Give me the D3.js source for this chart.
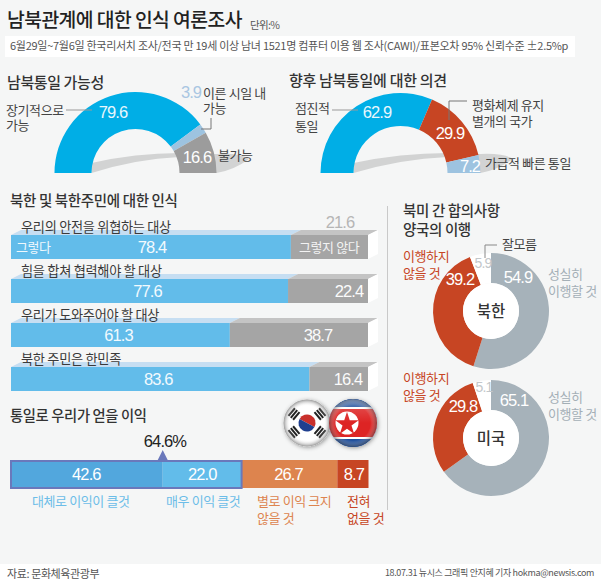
<!DOCTYPE html>
<html><head><meta charset="utf-8">
<script src="https://cdnjs.cloudflare.com/ajax/libs/d3/7.8.5/d3.min.js"></script>
<style>html,body{margin:0;padding:0;background:#f5f6f6}svg{display:block}
text{font-family:"Noto Sans CJK KR","Noto Sans",sans-serif;}
text.n{font-family:"Liberation Sans",Arial,sans-serif;}</style></head><body>
<svg id="c" width="601" height="582"></svg>
<script>
const gaugeA = [79.6, 3.9, 16.6];
const gaugeB = [62.9, 29.9, 7.2];
const barLabels = ["우리의 안전을 위협하는 대상","힘을 합쳐 협력해야 할 대상","우리가 도와주어야 할 대상","북한 주민은 한민족"];
const barYes = [78.4, 77.6, 61.3, 83.6];
const barNo = [21.6, 22.4, 38.7, 16.4];
const benefit = [42.6, 22.0, 26.7, 8.7];
const benefitSum = 64.6;
const donutNK = [54.9, 39.2, 5.9];
const donutUS = [65.1, 29.8, 5.1];

const BLUE="#00aee6", LBLUE="#9dc3e0", GREY="#9c9c9c", RED="#c74523", SKY="#62bcea", DGREY="#a5a5a5", SLATE="#a6b2ba", TXT="#444";
const svg=d3.select("#c");
const T=(x,y,s,o={})=>svg.append("text").attr("x",x).attr("y",y).text(s)
  .attr("font-size",o.size||13).attr("fill",o.fill||TXT).attr("text-anchor",o.anchor||"start")
  .attr("font-weight",o.weight||400).attr("letter-spacing",o.ls??-0.4).attr("class",o.cls||null);
const N=(x,y,v,fill,size=16.5)=>T(x,y,v,{size,fill,anchor:"middle",ls:-0.9,cls:"n"});

svg.append("rect").attr("width",601).attr("height",582).attr("fill","#f5f6f6");
svg.append("rect").attr("x",5).attr("y",36).attr("width",570).attr("height",21).attr("fill","#fff");
svg.append("rect").attr("y",564).attr("width",601).attr("height",18).attr("fill","#fff");
svg.append("line").attr("x1",387.5).attr("x2",387.5).attr("y1",206).attr("y2",510).attr("stroke","#c9c9c9");

T(7,27,"남북관계에 대한 인식 여론조사",{size:19.3,fill:"#222",weight:500,ls:-0.55});
T(250,29,"단위:%",{size:10.5,fill:"#555",ls:-0.7});
T(10,50,"6월29일~7월6일 한국리서치 조사/전국 만 19세 이상 남녀 1521명 컴퓨터 이용 웹 조사(CAWI)/표본오차 95% 신뢰수준 ±2.5%p",{size:11,fill:"#555",ls:-0.28});

function gauge(cx,cy,R,r,vals,cols){
  const g=svg.append("g").attr("transform",`translate(${cx},${cy})`);
  const a=d3.scaleLinear().domain([0,d3.sum(vals)]).range([-Math.PI/2,Math.PI/2]);
  const s=d3.path();
  s.moveTo(-r,0); s.lineTo(-r,-10);
  s.quadraticCurveTo(0,-20,r,-20);
  s.lineTo(R,-19);
  s.quadraticCurveTo(R*1.3,-20,R*1.4,-14);
  s.quadraticCurveTo(R*1.22,-3,R,0);
  s.lineTo(r,-16);
  s.quadraticCurveTo(0,-14,-r,0);
  s.closePath();
  g.append("path").attr("d",s.toString()).attr("fill","#d2d3d3");
  const arc=d3.arc().innerRadius(r).outerRadius(R);
  let acc=0;
  vals.forEach((v,i)=>{g.append("path").attr("d",arc({startAngle:a(acc),endAngle:a(acc+v)})).attr("fill",cols[i]);acc+=v;});
}
T(7,88,"남북통일 가능성",{size:15,fill:"#333",weight:500});
gauge(135.5,173,81,44,gaugeA,[BLUE,LBLUE,GREY]);
N(113,118,gaugeA[0].toFixed(1),"#e8f7fd");
N(191,98,gaugeA[1].toFixed(1),"#a9c6e2");
N(197,163,gaugeA[2].toFixed(1),"#fff");
T(6,115,"장기적으로");T(6,130,"가능");
T(203,98,"이른 시일 내");T(203,113,"가능");
T(218,160,"불가능");
svg.append("path").attr("d",d3.line()([[66,110],[92,110]])).attr("stroke","#999").attr("fill","none");
svg.append("path").attr("d",d3.line()([[211,118],[211,129],[201,129]])).attr("stroke","#777").attr("fill","none");

T(289,86,"향후 남북통일에 대한 의견",{size:15,fill:"#333",weight:500,ls:-0.3});
gauge(400.5,173,80,47,gaugeB,[BLUE,RED,LBLUE]);
N(377,118,gaugeB[0].toFixed(1),"#e8f7fd");
N(450,139,gaugeB[1].toFixed(1),"#fff");
N(470,172,gaugeB[2].toFixed(1),"#fff");
T(295,113,"점진적");T(295,131,"통일");
T(472,110,"평화체제 유지");T(472,126,"별개의 국가");
T(485,168,"가급적 빠른 통일");
svg.append("path").attr("d",d3.line()([[332,110],[358,110]])).attr("stroke","#999").attr("fill","none");
svg.append("path").attr("d",d3.line()([[449,120],[449,101],[467,101]])).attr("stroke","#777").attr("fill","none");

T(10,206,"북한 및 북한주민에 대한 인식",{size:14.5,fill:"#333",weight:500,ls:-0.35});
const xB=d3.scaleLinear().domain([0,100]).range([11,368]);
const yB=d3.scalePoint().domain(barLabels).range([235,367]);
const bh=24, dx=10, dy=5;
barLabels.forEach((l,i)=>{
  const y=yB(l), x0=xB(0), xm=xB(barYes[i]), x1=xB(100);
  const poly=(pts,f)=>svg.append("polygon").attr("points",pts.map(p=>p.join(",")).join(" ")).attr("fill",f);
  poly([[x0,y],[x0+dx,y-dy],[xm+dx,y-dy],[xm,y]],"#c6def2");
  poly([[xm,y],[xm+dx,y-dy],[x1+dx,y-dy],[x1,y]],"#c4c4c4");
  poly([[x1,y],[x1+dx,y-dy],[x1+dx,y+bh-dy],[x1,y+bh]],"#fff");
  svg.append("rect").attr("x",x0).attr("y",y).attr("width",xm-x0).attr("height",bh).attr("fill",SKY);
  svg.append("rect").attr("x",xm).attr("y",y).attr("width",x1-xm).attr("height",bh).attr("fill",DGREY);
  T(21,y-3,l,{size:13.2,fill:"#3a3a3a",ls:-0.3});
  N((x0+xm)/2+[1,-2,-2,-2][i],y+18,barYes[i].toFixed(1),"#f2fafe");
  if(i>0) N([0,349,318,348][i],y+18,barNo[i].toFixed(1),"#fbfbfb");
});
N(340,228,barNo[0].toFixed(1),"#b5b5b5");
T(16,252,"그렇다",{fill:"#eef8fd"});
T(299,252,"그렇지 않다",{fill:"#f3f3f3"});

T(10,421,"통일로 우리가 얻을 이익",{size:14.3,fill:"#333",weight:500,ls:-0.35});
N(165,447,benefitSum.toFixed(1)+"%","#222");
const xS=d3.scaleLinear().domain([0,d3.sum(benefit)]).range([10,368.5]);
const bc=["#52a7dd",SKY,"#dd844e",RED];
let acc=0;
benefit.forEach((v,i)=>{
  svg.append("rect").attr("x",xS(acc)).attr("y",460).attr("width",xS(acc+v)-xS(acc)).attr("height",28).attr("fill",bc[i]);
  N((xS(acc)+xS(acc+v))/2+[0,0,-1,1][i],480,v.toFixed(1),"#fff");
  acc+=v;
});
svg.append("rect").attr("x",xS(0)+1).attr("y",461).attr("width",xS(benefit[0]+benefit[1])-xS(0)-1).attr("height",27).attr("fill","none").attr("stroke","#6a78bb").attr("stroke-width",2);
svg.append("polygon").attr("points",[[xS(benefit[0]),450],[xS(benefit[0])-5,460],[xS(benefit[0])+5,460]].join(" ")).attr("fill","#6a78bb");
T(32,506,"대체로 이익이 클것",{fill:"#6cbde8"});
T(166,506,"매우 이익 클것",{fill:"#6cbde8"});
T(257,506,"별로 이익 크지",{fill:"#dd844e"});T(257,523,"않을 것",{fill:"#dd844e"});
T(347,506,"전혀",{fill:RED});T(347,523,"없을 것",{fill:RED});

// flags
const defs=svg.append("defs");
const g1=defs.append("radialGradient").attr("id","gl").attr("cx","50%").attr("cy","50%").attr("r","50%");
g1.append("stop").attr("offset","72%").attr("stop-color","#fff").attr("stop-opacity",0);
g1.append("stop").attr("offset","100%").attr("stop-color","#444").attr("stop-opacity",0.55);
const g2=defs.append("linearGradient").attr("id","sh").attr("x1",0).attr("x2",0).attr("y1",0).attr("y2",1);
g2.append("stop").attr("offset","0%").attr("stop-color","#fff").attr("stop-opacity",0.25);
g2.append("stop").attr("offset","50%").attr("stop-color","#fff").attr("stop-opacity",0);
const ds=defs.append("filter").attr("id","ds").attr("x","-30%").attr("y","-30%").attr("width","160%").attr("height","160%");
ds.append("feDropShadow").attr("dx",1).attr("dy",1).attr("stdDeviation",2).attr("flood-color","#000").attr("flood-opacity",0.4);
defs.append("clipPath").attr("id","nk").append("circle").attr("cx",353).attr("cy",423).attr("r",24);
const kr=svg.append("g").attr("transform","translate(307,423)");
kr.append("circle").attr("r",23.5).attr("fill","#fff").attr("filter","url(#ds)");
const tk=d3.arc().innerRadius(0).outerRadius(8.5);
kr.append("path").attr("d",tk({startAngle:-Math.PI/2+0.5,endAngle:Math.PI/2+0.5})).attr("fill","#c9302c");
kr.append("path").attr("d",tk({startAngle:Math.PI/2+0.5,endAngle:3*Math.PI/2+0.5})).attr("fill","#1f3f8f");
[[-13,-9,-1],[13,-9,1],[-13,9,1],[13,9,-1]].forEach(([x,y,s])=>{
  const t=kr.append("g").attr("transform",`translate(${x},${y}) rotate(${s*50})`);
  [-3,0,3].forEach(d=>t.append("rect").attr("x",-5).attr("y",d-1).attr("width",10).attr("height",2).attr("fill","#222"));
});
kr.append("circle").attr("r",23.5).attr("fill","url(#gl)");
svg.append("circle").attr("cx",353).attr("cy",423).attr("r",24).attr("fill","#1f4f9c").attr("filter","url(#ds)");
const nk=svg.append("g").attr("clip-path","url(#nk)");
nk.append("rect").attr("x",329).attr("y",399).attr("width",48).attr("height",48).attr("fill","#1f4f9c");
nk.append("rect").attr("x",329).attr("y",407).attr("width",48).attr("height",32).attr("fill","#fff");
nk.append("rect").attr("x",329).attr("y",409).attr("width",48).attr("height",28).attr("fill","#dd2424");
nk.append("circle").attr("cx",347).attr("cy",423).attr("r",11.5).attr("fill","#fff");
nk.append("path").attr("transform","translate(347,424)").attr("d",d3.symbol(d3.symbolStar,170)()).attr("fill","#dd2424");
nk.append("circle").attr("cx",353).attr("cy",423).attr("r",24).attr("fill","url(#gl)");
nk.append("circle").attr("cx",353).attr("cy",423).attr("r",24).attr("fill","url(#sh)");

// donuts
T(403,216,"북미 간 합의사항",{size:14.5,fill:"#333",weight:500,ls:-0.35});
T(403,235,"양국의 이행",{size:14.5,fill:"#333",weight:500,ls:-0.35});
function donut(cy,vals,name){
  const g=svg.append("g").attr("transform",`translate(491,${cy})`);
  const pie=d3.pie().sort(null)(vals);
  const arc=d3.arc().innerRadius(28).outerRadius(58);
  const c=[SLATE,RED,"#fff"];
  g.selectAll("path").data(pie).enter().append("path").attr("d",arc).attr("fill",(d,i)=>c[i]);
  g.append("circle").attr("r",28).attr("fill","#fff");
  g.append("text").attr("text-anchor","middle").attr("y",6).attr("font-size",15.5).attr("font-weight",500).attr("fill","#333").text(name);
}
donut(311,donutNK,"북한");
donut(438,donutUS,"미국");
N(518,283,donutNK[0].toFixed(1),"#fff");
N(460,285,donutNK[1].toFixed(1),"#fff");
N(483,268,donutNK[2].toFixed(1),"#c3c7ca",14);
N(514,406,donutUS[0].toFixed(1),"#fff");
N(463,412,donutUS[1].toFixed(1),"#fff");
N(484,392,donutUS[2].toFixed(1),"#c3c7ca",14);
T(403,261,"이행하지",{fill:RED});T(403,278,"않을 것",{fill:RED});
T(403,383,"이행하지",{fill:RED});T(403,400,"않을 것",{fill:RED});
T(548,279,"성실히",{fill:"#a4afb6"});T(548,296,"이행할 것",{fill:"#a4afb6"});
T(548,402,"성실히",{fill:"#a4afb6"});T(548,419,"이행할 것",{fill:"#a4afb6"});
T(502,249,"잘모름");
svg.append("path").attr("d",d3.line()([[485,258],[485,245],[497,245]])).attr("stroke","#888").attr("fill","none");

T(7,578,"자료: 문화체육관광부",{size:11,fill:"#555"});
T(594,576,"18.07.31 뉴시스 그래픽 안지혜 기자 hokma@newsis.com",{size:9,anchor:"end",fill:"#555",ls:-0.35});
</script></body></html>
